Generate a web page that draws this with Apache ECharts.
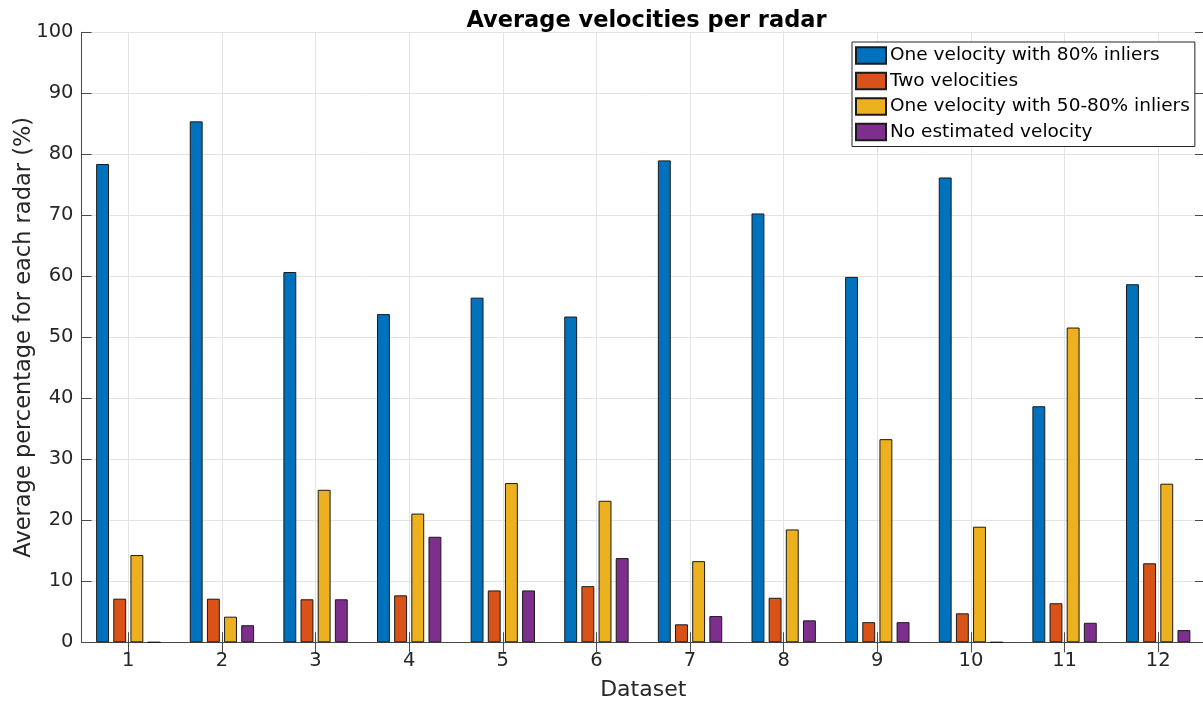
<!DOCTYPE html>
<html>
<head>
<meta charset="utf-8">
<script src="https://cdn.jsdelivr.net/npm/echarts@6/dist/echarts.min.js"></script>
<style>
  html, body { margin: 0; padding: 0; background: #fff; }
  #chart { width: 1203px; height: 701px; }
</style>
</head>
<body>
<div id="chart"></div>
<script>
// Dataset labels on the horizontal axis
const categories = ['1', '2', '3', '4', '5', '6', '7', '8', '9', '10', '11', '12'];

// Series names, in legend order
const seriesNames = [
  'One velocity with 80% inliers',
  'Two velocities',
  'One velocity with 50-80% inliers',
  'No estimated velocity'
];

// Average percentage per radar, one value per dataset
const oneVelocity80 = [78.4, 85.4, 60.7, 53.8, 56.5, 53.4, 79.0, 70.3, 59.9, 76.2, 38.7, 58.7];
const twoVelocities = [7.15, 7.15, 7.05, 7.7, 8.5, 9.2, 2.95, 7.3, 3.3, 4.75, 6.4, 12.95];
const oneVelocity5080 = [14.3, 4.2, 25.0, 21.1, 26.1, 23.2, 13.3, 18.5, 33.3, 18.95, 51.6, 26.0];
const noVelocity = [0, 2.8, 7.05, 17.3, 8.5, 13.8, 4.3, 3.6, 3.3, 0, 3.2, 2.0];

// Y-axis tick range
const yMin = 0;
const yMax = 100;
const yStep = 10;

const palette = ['#0072BD', '#D95319', '#EDB120', '#7E2F8E'];
const seriesValues = [oneVelocity80, twoVelocities, oneVelocity5080, noVelocity];

const FONT = 'DejaVu Sans';
const TEXT = '#262626';
const FRAME = '#4a4a4a';
const GRID = '#e3e3e3';

const chart = echarts.init(document.getElementById('chart'), null, { renderer: 'canvas' });

const series = seriesNames.map((name, i) => ({
  name: name,
  type: 'bar',
  xAxisIndex: 0,
  yAxisIndex: 0,
  data: seriesValues[i],
  barWidth: 12.9,
  barGap: '33%',
  itemStyle: { color: palette[i], borderColor: '#1a1a1a', borderWidth: 1 },
  emphasis: { disabled: true },
  animation: false
}));

const option = {
  animation: false,
  backgroundColor: '#ffffff',
  title: {
    text: 'Average velocities per radar',
    left: 641.5,
    textAlign: 'center',
    top: 5,
    textStyle: { fontFamily: FONT, fontSize: 22.5, fontWeight: 'bold', color: '#000' }
  },
  legend: {
    orient: 'vertical',
    left: 852,
    top: 42,
    padding: [4, 5, 5, 3],
    itemWidth: 30,
    itemHeight: 16.5,
    itemGap: 6.5,
    icon: 'rect',
    backgroundColor: '#ffffff',
    borderColor: '#262626',
    borderWidth: 1,
    data: seriesNames,
    textStyle: { fontFamily: FONT, fontSize: 18.5, color: '#000', padding: [0, 0, 0, -1], lineHeight: 17 }
  },
  grid: { left: 81.5, right: -2, top: 32.3, bottom: 58.7, containLabel: false, outerBoundsMode: 'none' },
  xAxis: [
    {
      type: 'category',
      data: categories,
      position: 'bottom',
      name: 'Dataset',
      nameLocation: 'middle',
      nameGap: 37,
      nameTextStyle: { fontFamily: FONT, fontSize: 22, color: TEXT },
      axisLine: { show: true, lineStyle: { color: FRAME, width: 1 } },
      axisTick: { show: true, inside: true, length: 10, alignWithLabel: true, lineStyle: { color: FRAME } },
      axisLabel: { fontFamily: FONT, fontSize: 19.5, color: TEXT, margin: 9 },
      splitLine: { show: true, alignWithLabel: true, lineStyle: { color: GRID, width: 1 } }
    },
    {
      type: 'category',
      data: categories,
      position: 'top',
      axisLine: { show: true, lineStyle: { color: FRAME, width: 1 } },
      axisTick: { show: true, inside: true, length: 10, alignWithLabel: true, lineStyle: { color: FRAME } },
      axisLabel: { show: false },
      splitLine: { show: false }
    }
  ],
  yAxis: [
    {
      type: 'value',
      min: yMin,
      max: yMax,
      interval: yStep,
      position: 'left',
      name: 'Average percentage for each radar (%)',
      nameLocation: 'middle',
      nameGap: 46,
      nameMoveOverlap: false,
      nameTextStyle: { fontFamily: FONT, fontSize: 22.5, color: TEXT },
      axisLine: { show: true, lineStyle: { color: FRAME, width: 1 } },
      axisTick: { show: true, inside: true, length: 10, lineStyle: { color: FRAME } },
      axisLabel: { fontFamily: FONT, fontSize: 19.5, color: TEXT, margin: 8 },
      splitLine: { show: true, lineStyle: { color: GRID, width: 1 } }
    },
    {
      type: 'value',
      min: yMin,
      max: yMax,
      interval: yStep,
      position: 'right',
      axisLine: { show: true, lineStyle: { color: FRAME, width: 1 } },
      axisTick: { show: true, inside: true, length: 10, lineStyle: { color: FRAME } },
      axisLabel: { show: false },
      splitLine: { show: false }
    }
  ],
  series: series
};

chart.setOption(option);
</script>
</body>
</html>
